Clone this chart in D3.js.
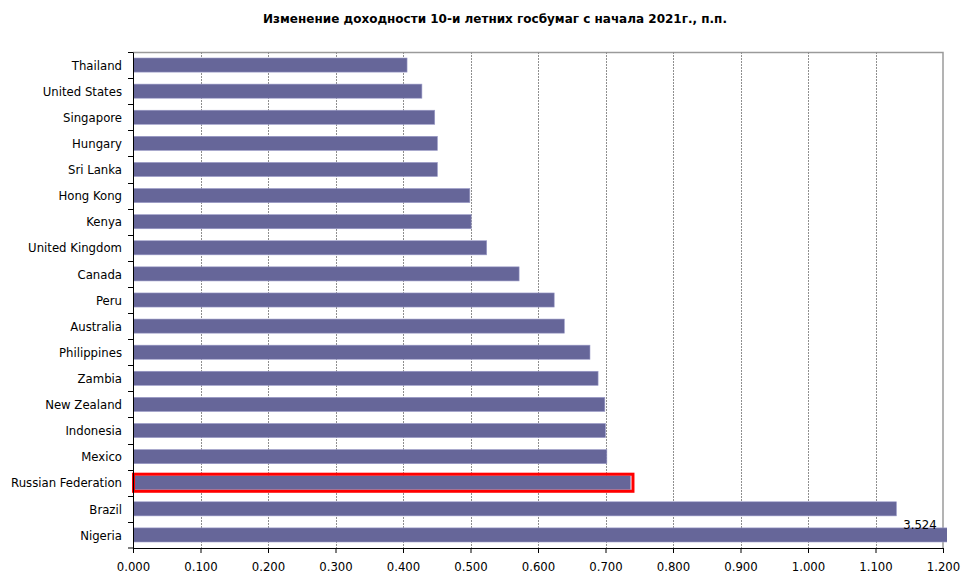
<!DOCTYPE html>
<html>
<head>
<meta charset="utf-8">
<script src="https://cdn.jsdelivr.net/npm/d3@7/dist/d3.min.js"></script>
<style>
  html, body { margin: 0; padding: 0; background: #fff; }
  svg { display: block; }
</style>
</head>
<body>
<svg id="chart" width="961" height="574"></svg>
<script>
// Change in 10-year government bond yields since the start of 2021, p.p.
const title = "Изменение доходности 10-и летних госбумаг с начала 2021г., п.п.";

const countries = [
  "Thailand", "United States", "Singapore", "Hungary", "Sri Lanka",
  "Hong Kong", "Kenya", "United Kingdom", "Canada", "Peru",
  "Australia", "Philippines", "Zambia", "New Zealand", "Indonesia",
  "Mexico", "Russian Federation", "Brazil", "Nigeria"
];

const yieldChange = [
  0.406, 0.428, 0.447, 0.451, 0.451,
  0.499, 0.501, 0.524, 0.572, 0.624,
  0.639, 0.677, 0.689, 0.699, 0.700,
  0.702, 0.737, 1.131, 3.524
];

const xTicks = [0, 0.1, 0.2, 0.3, 0.4, 0.5, 0.6, 0.7, 0.8, 0.9, 1.0, 1.1, 1.2];

const highlighted = "Russian Federation";
const labelled = "Nigeria";

const rows = countries.map((c, i) => ({ country: c, value: yieldChange[i] }));

const svg = d3.select("#chart");
const margin = { top: 52, right: 18, bottom: 26, left: 133 };
const W = 961, H = 574;
const innerW = W - margin.left - margin.right;
const innerH = H - margin.top - margin.bottom;

const font = "'DejaVu Sans Condensed', 'DejaVu Sans', Verdana, sans-serif";
const titleFont = "'DejaVu Sans', Verdana, sans-serif";
const labelSize = "13px";

const x = d3.scaleLinear().domain([0, 1.2]).range([0, innerW]);
const y = d3.scaleBand().domain(countries).range([0, innerH]).paddingInner(0.46).paddingOuter(0.23);

// title
svg.append("text")
  .attr("x", 495)
  .attr("y", 23)
  .attr("text-anchor", "middle")
  .style("font-family", titleFont)
  .style("font-weight", "bold")
  .style("font-size", "12px")
  .attr("fill", "#000")
  .text(title);

const g = svg.append("g").attr("transform", `translate(${margin.left},${margin.top})`);

// plot frame (top and right)
g.append("path")
  .attr("d", `M0,0.5H${innerW}V${innerH}`)
  .attr("fill", "none")
  .attr("stroke", "#9a9a9a")
  .attr("stroke-width", 1.5);

// vertical gridlines
g.append("g")
  .selectAll("line")
  .data(xTicks.filter(t => t > 0 && t < 1.2))
  .join("line")
  .attr("x1", d => Math.round(x(d)) + 0.5)
  .attr("x2", d => Math.round(x(d)) + 0.5)
  .attr("y1", 0)
  .attr("y2", innerH)
  .attr("stroke", "#8f8f8f")
  .attr("stroke-dasharray", "2,1");

// clip so the off-scale bar stops just past the frame
svg.append("defs").append("clipPath").attr("id", "plotClip")
  .append("rect").attr("x", 0).attr("y", -2).attr("width", innerW + 4).attr("height", innerH + 4);

const bars = g.append("g").attr("clip-path", "url(#plotClip)");

bars.selectAll("rect")
  .data(rows)
  .join("rect")
  .attr("x", x(0))
  .attr("y", d => y(d.country))
  .attr("width", d => x(d.value) - x(0))
  .attr("height", y.bandwidth())
  .attr("fill", "#666699")
  .attr("stroke", "#9c9cc8")
  .attr("stroke-width", 0.6);

// red outline around the highlighted bar
const hl = rows.find(d => d.country === highlighted);
g.append("rect")
  .attr("x", x(0) + 0.5)
  .attr("y", y(hl.country) - 1.5)
  .attr("width", x(hl.value) - x(0) + 2)
  .attr("height", y.bandwidth() + 3)
  .attr("fill", "none")
  .attr("stroke", "#ff0000")
  .attr("stroke-width", 3);

// value label for the off-scale bar
const lb = rows.find(d => d.country === labelled);
g.append("text")
  .attr("x", x(1.2) - 23)
  .attr("y", y(lb.country) + 1.5)
  .attr("text-anchor", "middle")
  .style("font-family", font)
  .style("font-size", labelSize)
  .attr("fill", "#000")
  .text(d3.format(".3f")(lb.value));

// left axis
const yAxis = d3.axisLeft(y).tickSize(0).tickPadding(11);
const ya = g.append("g").call(yAxis);
ya.select(".domain").attr("stroke", "#000");
ya.selectAll("text")
  .attr("dy", "0.36em")
  .style("font-family", font)
  .style("font-size", labelSize)
  .attr("fill", "#000");

// tick marks on category boundaries
g.append("g")
  .selectAll("line")
  .data(d3.range(countries.length + 1))
  .join("line")
  .attr("x1", -5).attr("x2", 0)
  .attr("y1", i => i === countries.length ? innerH : Math.round(y(countries[i]) - y.step() * y.paddingInner() / 2) + 0.5)
  .attr("y2", i => i === countries.length ? innerH : Math.round(y(countries[i]) - y.step() * y.paddingInner() / 2) + 0.5)
  .attr("stroke", "#000");

// bottom axis
const xAxis = d3.axisBottom(x).tickValues(xTicks).tickFormat(d3.format(".3f")).tickSize(5);
const xa = g.append("g").attr("transform", `translate(0,${innerH})`).call(xAxis);
xa.select(".domain").attr("stroke", "#000");
xa.selectAll(".tick line").attr("stroke", "#000");
xa.selectAll("text")
  .attr("y", 22.5)
  .attr("dy", null)
  .style("font-family", font)
  .style("font-size", labelSize)
  .attr("fill", "#000");
</script>
</body>
</html>
